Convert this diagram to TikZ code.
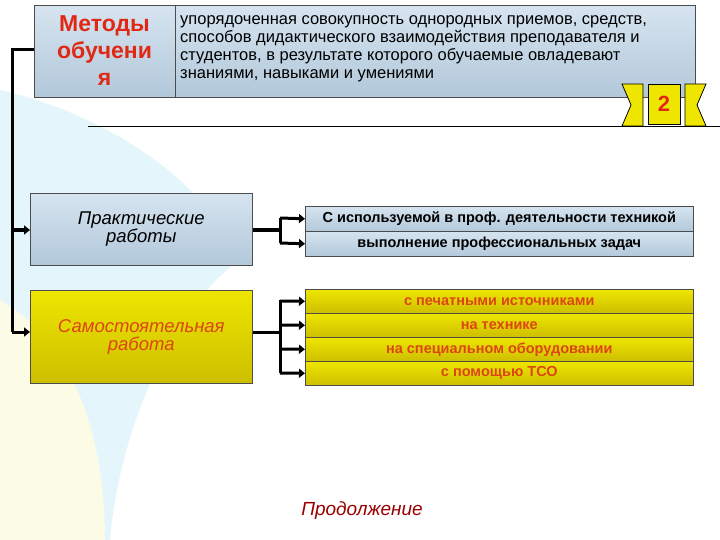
\documentclass[tikz,border=0pt]{standalone}
\usepackage{fontspec}
\setmainfont{Liberation Sans}
\usetikzlibrary{arrows.meta}
\definecolor{bluebox}{RGB}{178,200,218}
\definecolor{blueboxlight}{RGB}{214,228,240}
\definecolor{ybox}{RGB}{238,230,0}
\definecolor{yboxdark}{RGB}{205,190,0}
\definecolor{redtxt}{RGB}{225,40,20}
\definecolor{orangetxt}{RGB}{220,70,20}
\definecolor{bgblue}{RGB}{228,246,252}
\definecolor{bgyellow}{RGB}{252,252,230}
\tikzset{
  bbox/.style={draw=black!70, line width=0.6pt, top color=blueboxlight, bottom color=bluebox, inner sep=0pt, anchor=north west},
  yboxs/.style={draw=black!70, line width=0.6pt, top color=ybox, bottom color=yboxdark, inner sep=0pt, anchor=north west},
  con/.style={line width=3pt},
  arr/.style={line width=3pt, -{Triangle[length=6pt,width=9pt]}},
  rt/.style={font=\fontsize{14.5}{16}\selectfont\bfseries},
}
\begin{document}
\begin{tikzpicture}[x=1pt,y=-1pt]
\useasboundingbox (0,0) rectangle (720,540);
\fill[white] (0,0) rectangle (720,540);
% background shapes
\fill[bgblue] (0,90) .. controls (90,110) and (200,170) .. (240,260) .. controls (180,300) and (120,420) .. (110,540) -- (0,540) -- cycle;
\fill[bgyellow] (0,300) .. controls (70,340) and (105,430) .. (105,540) -- (0,540) -- cycle;
\draw[line width=0.6pt] (88,126) -- (720,126);
% top box
\node[bbox, minimum width=661pt, minimum height=92pt] (top) at (34,5) {};
\draw[black!70, line width=0.6pt] (175,5) -- (175,97);
\node[text=redtxt, font=\fontsize{23}{27}\selectfont\bfseries, align=center] (tl) at (104.5,51) {Методы\\обучени\\я};
\node[anchor=north west, font=\fontsize{16.5}{18}\selectfont, align=left, inner sep=0pt] (tr) at (180,15) {упорядоченная совокупность однородных приемов, средств,\\способов дидактического взаимодействия преподавателя и\\студентов, в результате которого обучаемые овладевают\\знаниями, навыками и умениями};
% badge
\fill[ybox, draw=black, line width=0.8pt] (622,84) -- (643,84) -- (643,126) -- (622,126) -- (631,105) -- cycle;
\fill[ybox, draw=black, line width=0.8pt] (706,84) -- (685,84) -- (685,126) -- (706,126) -- (697,105) -- cycle;
\node[fill=ybox, draw=black, line width=0.8pt, minimum width=32pt, minimum height=40pt, text=redtxt, font=\fontsize{22}{24}\selectfont\bfseries] (badge) at (664,104) {2};
% left boxes
\node[bbox, minimum width=222pt, minimum height=72pt] (pr) at (30,193) {};
\node[font=\fontsize{18.5}{18}\selectfont\itshape, align=center] at (pr.center) {Практические\\работы};
\node[yboxs, minimum width=222pt, minimum height=93pt] (sr) at (30,290) {};
\node[text=orangetxt, font=\fontsize{18.5}{18}\selectfont\itshape, align=center] at (sr.center) {Самостоятельная\\работа};
% left connector
\coordinate (lt) at (12,50);
\draw[con] (top.west |- lt) -- (lt) -- (12,332);
\draw[arr] (12,230) -- (pr.west |- 0,230);
\draw[arr] (12,332) -- (sr.west |- 0,332);
% right blue boxes
\node[bbox, minimum width=388pt, minimum height=25pt, rt] (b1) at (305,206) {С используемой в проф. деятельности техникой};
\node[bbox, minimum width=388pt, minimum height=25pt, rt] (b2) at (305,231) {выполнение профессиональных задач};
\coordinate (j1) at (280,230);
\draw[con] (pr.east |- j1) -- (j1);
\draw[con] (280,218) -- (280,243);
\draw[arr] (280,218) -- (b1.west);
\draw[arr] (280,243) -- (b2.west);
% right yellow boxes
\node[yboxs, minimum width=388pt, minimum height=24pt, rt, text=orangetxt] (y1) at (305,289) {с печатными источниками};
\node[yboxs, minimum width=388pt, minimum height=24pt, rt, text=orangetxt] (y2) at (305,313) {на технике};
\node[yboxs, minimum width=388pt, minimum height=24pt, rt, text=orangetxt] (y3) at (305,337) {на специальном оборудовании};
\node[yboxs, minimum width=388pt, minimum height=24pt, rt, text=orangetxt] (y4) at (305,361) {с помощью ТСО};
\coordinate (j2) at (280,332);
\draw[con] (sr.east |- j2) -- (j2);
\draw[con] (280,300) -- (280,373);
\draw[arr] (280,301) -- (y1.west);
\draw[arr] (280,325) -- (y2.west);
\draw[arr] (280,349) -- (y3.west);
\draw[arr] (280,373) -- (y4.west);
\node[text=red!60!black, font=\fontsize{19}{20}\selectfont\itshape] (next) at (362,511) {Продолжение};
\end{tikzpicture}
\end{document}
